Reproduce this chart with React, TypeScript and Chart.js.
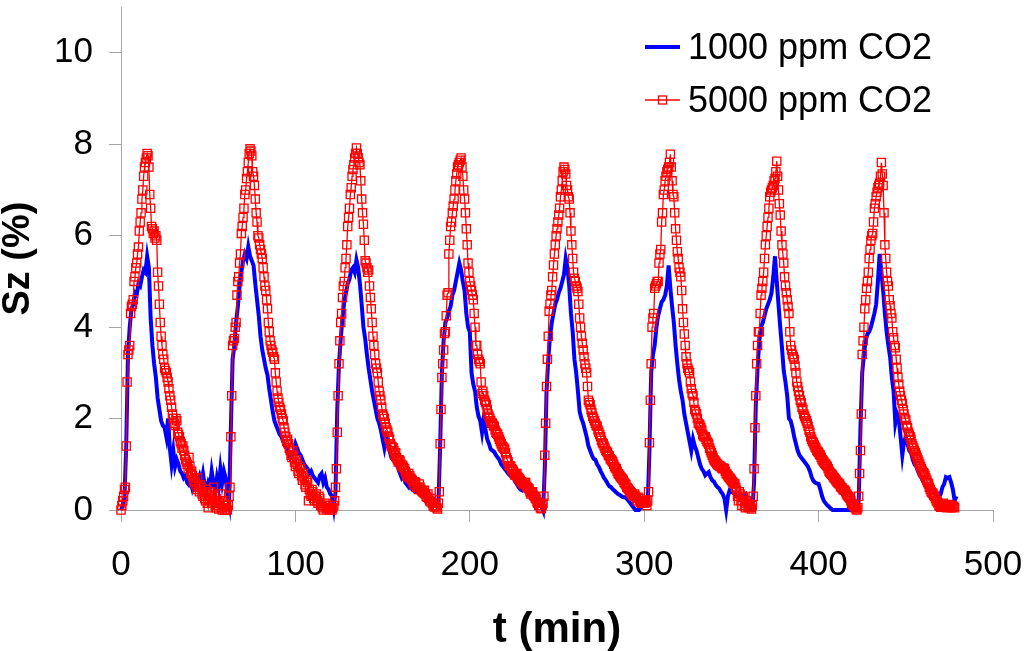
import { Chart, registerables } from "chart.js";
import { useEffect, useRef } from "react";

Chart.register(...registerables);

// one row per 60-min cycle; blue sampled every minute, red every half minute (Sz in %)
const CYCLE_MIN = 60;
const BLUE_STEP = 1;
const RED_STEP = 0.5;

const seriesNames = ["1000 ppm CO2", "5000 ppm CO2"];

const blueCycles = [
    [0, 0.1, 0.3, 1.4, 3.4, 4.0, 4.4, 4.5, 4.75, 4.7, 4.95, 4.9, 5.1, 5.25, 5.2, 5.55, 5.3, 4.2, 3.6, 3.2, 2.9, 2.45, 2.2, 1.95, 1.85, 1.8, 1.6, 2.0, 1.35, 1.0, 1.3, 0.95, 1.1, 1.0, 0.85, 0.8, 0.7, 0.75, 0.6, 0.55, 0.6, 0.45, 0.55, 0.5, 0.65, 0.75, 0.6, 0.8, 0.55, 0.45, 0.6, 0.5, 0.85, 0.6, 0.4, 0.7, 0.5, 0.9, 0.6, 0.85],
    [0.7, 0.35, 0.15, 1.8, 3.3, 3.6, 4.1, 4.45, 4.9, 5.2, 5.45, 5.6, 5.5, 5.76, 5.55, 5.45, 5.35, 4.95, 4.6, 4.25, 3.8, 3.5, 3.3, 3.1, 2.95, 2.65, 2.4, 2.15, 1.95, 1.85, 1.75, 1.65, 1.6, 1.5, 1.4, 1.35, 1.25, 1.15, 1.2, 1.3, 1.45, 1.35, 1.25, 1.2, 1.1, 1.0, 0.95, 0.9, 0.8, 0.85, 0.75, 0.7, 0.65, 0.6, 0.75, 0.8, 0.6, 0.7, 0.5, 0.45],
    [0.35, 0.3, 0.05, 0.4, 2.2, 3.2, 3.75, 4.2, 4.55, 4.75, 4.95, 5.05, 5.25, 5.3, 5.2, 5.47, 5.3, 4.95, 4.5, 4.0, 3.75, 3.4, 3.1, 2.85, 2.6, 2.4, 2.2, 2.0, 1.9, 1.75, 1.55, 1.36, 1.6, 1.5, 1.3, 1.15, 1.1, 1.05, 1.0, 0.9, 0.8, 0.7, 0.75, 0.6, 0.55, 0.5, 0.57, 0.45, 0.42, 0.4, 0.45, 0.36, 0.32, 0.3, 0.35, 0.2, 0.25, 0.18, 0.15, 0.14],
    [0.1, 0.07, 0.1, 1.4, 3.0, 3.7, 4.1, 4.2, 4.35, 4.45, 4.7, 4.8, 5.0, 5.2, 5.4, 5.25, 5.0, 4.8, 4.3, 4.0, 3.9, 3.0, 2.75, 2.6, 2.25, 2.05, 1.95, 1.7, 2.0, 1.75, 1.55, 1.45, 1.33, 1.3, 1.27, 1.2, 1.15, 1.1, 1.0, 0.95, 0.9, 0.85, 0.8, 0.76, 0.72, 0.7, 0.62, 0.57, 0.5, 0.45, 0.43, 0.5, 0.55, 0.6, 0.57, 0.4, 0.3, 0.28, 0.25, 0.2],
    [0.2, 0.1, 0.0, 0.9, 2.6, 3.3, 3.8, 4.1, 4.3, 4.5, 4.6, 4.75, 4.85, 5.0, 5.15, 5.5, 5.3, 4.9, 4.3, 3.9, 3.3, 3.0, 2.6, 2.15, 2.0, 1.9, 1.75, 1.6, 1.4, 1.3, 1.2, 1.12, 1.1, 1.0, 0.94, 0.85, 0.78, 0.7, 0.65, 0.58, 0.52, 0.5, 0.45, 0.42, 0.38, 0.35, 0.33, 0.3, 0.28, 0.28, 0.25, 0.2, 0.15, 0.1, 0.05, 0.0, 0.0, 0.0, 0.05, 0.1],
    [0.15, 0.1, 0.1, 1.3, 3.0, 3.4, 3.6, 4.0, 4.25, 4.4, 4.55, 4.6, 4.7, 4.9, 5.35, 4.85, 4.45, 4.1, 3.6, 3.2, 2.85, 2.6, 2.4, 2.1, 1.9, 1.7, 1.5, 1.3, 1.55, 1.4, 1.3, 1.15, 1.0, 0.9, 0.85, 0.76, 0.8, 0.83, 0.72, 0.65, 0.62, 0.55, 0.5, 0.47, 0.4, 0.35, 0.25, 0.0, 0.3, 0.43, 0.4, 0.38, 0.35, 0.3, 0.3, 0.28, 0.3, 0.33, 0.35, 0.15],
    [0.05, 0.0, 0.0, 0.6, 2.3, 3.1, 3.7, 4.0, 4.1, 4.25, 4.4, 4.5, 4.6, 4.75, 5.1, 5.55, 5.0, 4.5, 4.0, 3.55, 3.05, 2.8, 2.5, 2.0, 1.95, 1.8, 1.6, 1.45, 1.3, 1.2, 1.15, 1.1, 1.05, 1.0, 0.94, 0.85, 0.72, 0.64, 0.6, 0.58, 0.57, 0.45, 0.3, 0.2, 0.15, 0.1, 0.07, 0.03, 0, 0, 0, 0, 0, 0, 0, 0, 0, 0, 0, 0],
    [0, 0, 0, 0.2, 1.8, 3.0, 3.4, 3.7, 3.85, 3.9, 4.0, 4.15, 4.3, 4.5, 5.0, 5.6, 5.2, 4.8, 4.3, 3.9, 3.6, 3.35, 2.9, 2.6, 1.9, 2.1, 2.0, 1.6, 1.2, 1.5, 1.6, 1.45, 1.3, 1.25, 1.1, 1.0, 0.95, 0.85, 0.76, 0.7, 0.62, 0.55, 0.5, 0.47, 0.45, 0.43, 0.4, 0.35, 0.3, 0.28, 0.35, 0.5, 0.57, 0.72, 0.7, 0.72, 0.6, 0.45, 0.2, 0.3],
];

const redCycles = [
    [0, 0.1, 0.2, 0.3, 0.45, 0.5, 1.4, 2.8, 3.4, 3.5,
     3.6, 4.3, 4.45, 4.5, 4.6, 5.0, 5.1, 5.3, 5.4, 5.6,
     5.75, 6.1, 6.3, 6.5, 6.8, 7.0, 7.3, 7.5, 7.6, 7.7,
     7.8, 7.75, 7.5, 6.9, 6.6, 6.2, 6.15, 6.05, 6.1, 5.95,
     6.0, 5.9, 5.2, 4.9, 4.5, 4.1, 3.8, 3.6, 3.4, 3.3,
     3.1, 3.05, 3.0, 2.9, 2.8, 2.65, 2.5, 2.4, 2.25, 2.1,
     2.0, 1.9, 1.85, 2.0, 1.95, 1.7, 1.65, 1.6, 1.5, 1.45,
     1.35, 1.4, 1.3, 1.2, 1.1, 1.05, 1.0, 0.9, 1.15, 0.95,
     0.8, 0.85, 0.75, 0.65, 0.6, 0.7, 0.55, 0.45, 0.7, 0.5,
     0.4, 0.55, 0.5, 0.35, 0.3, 0.4, 0.25, 0.2, 0.45, 0.15,
     0.05, 0.2, 0.3, 0.4, 0.15, 0.25, 0.5, 0.3, 0.1, 0.05,
     0.2, 0.1, 0.02, 0.15, 0.35, 0.05, 0.0, 0.2, 0.1, 0.0],
    [0.1, 0.05, 0.0, 0.1, 0.3, 0.5, 1.6, 2.5, 3.6, 3.7,
     3.75, 4.0, 4.1, 4.7, 5.0, 5.1, 5.4, 5.6, 6.05, 6.2,
     6.4, 6.6, 6.9, 7.0, 7.25, 7.4, 7.6, 7.8, 7.9, 7.85,
     7.75, 7.4, 7.3, 7.1, 6.8, 6.5, 6.3, 6.0, 5.95, 5.8,
     5.7, 5.6, 5.5, 5.3, 5.1, 4.9, 4.8, 4.6, 4.4, 4.1,
     3.9, 3.7, 3.6, 3.5, 3.45, 3.35, 3.3, 3.0, 2.8, 2.6,
     2.45, 2.35, 2.25, 2.2, 2.1, 2.0, 1.95, 1.8, 1.7, 1.6,
     1.5, 1.55, 1.45, 1.35, 1.3, 1.2, 1.15, 1.3, 1.2, 1.05,
     0.95, 1.1, 1.0, 0.85, 0.8, 0.95, 0.9, 0.75, 0.65, 0.8,
     0.7, 0.55, 0.5, 0.65, 0.6, 0.2, 0.45, 0.35, 0.3, 0.45,
     0.4, 0.25, 0.2, 0.3, 0.35, 0.2, 0.15, 0.3, 0.25, 0.1,
     0.1, 0.05, 0.0, 0.1, 0.15, 0.05, 0.02, 0.1, 0.05, 0.0],
    [0.1, 0.05, 0.0, 0.05, 0.1, 0.2, 0.5, 0.9, 1.7, 2.5,
     3.2, 3.7, 4.1, 4.3, 4.65, 4.9, 5.0, 5.3, 5.5, 5.8,
     6.2, 6.4, 6.6, 6.9, 7.05, 7.3, 7.45, 7.55, 7.7, 7.8,
     7.92, 7.8, 7.7, 7.6, 7.55, 7.2, 6.8, 6.5, 6.25, 5.9,
     5.45, 5.4, 5.3, 5.2, 5.25, 4.9, 4.65, 4.4, 4.1, 3.8,
     3.6, 3.4, 3.2, 3.1, 3.0, 2.8, 2.6, 2.5, 2.4, 2.25,
     2.1, 2.05, 2.0, 1.9, 1.8, 1.75, 1.7, 1.6, 1.55, 1.45,
     1.4, 1.38, 1.36, 1.3, 1.2, 1.25, 1.15, 1.1, 1.05, 1.1,
     1.07, 1.0, 0.95, 0.98, 0.93, 0.9, 0.85, 0.8, 0.75, 0.72,
     0.8, 0.75, 0.7, 0.68, 0.65, 0.6, 0.55, 0.62, 0.6, 0.5,
     0.5, 0.45, 0.57, 0.5, 0.45, 0.42, 0.4, 0.38, 0.43, 0.35,
     0.3, 0.28, 0.35, 0.25, 0.2, 0.18, 0.25, 0.15, 0.1, 0.07],
    [0.07, 0.1, 0.05, 0.02, 0.15, 0.4, 1.45, 2.2, 2.9, 3.2,
     3.5, 3.86, 3.9, 4.25, 4.7, 4.75, 5.6, 5.9, 6.2, 6.3,
     6.5, 6.65, 6.8, 7.0, 7.2, 7.35, 7.5, 7.55, 7.6, 7.65,
     7.7, 7.5, 7.3, 7.0, 6.8, 6.5, 6.15, 5.8, 5.4, 5.2,
     5.0, 4.9, 4.8, 4.7, 4.6, 4.3, 4.0, 3.6, 3.6, 3.4,
     3.3, 3.25, 3.2, 2.8, 2.55, 2.6, 2.5, 2.4, 2.35, 2.3,
     2.2, 2.1, 2.05, 2.0, 1.95, 1.9, 1.9, 1.85, 1.83, 1.75,
     1.7, 1.68, 1.65, 1.6, 1.55, 1.5, 1.45, 1.4, 1.38, 1.35,
     1.33, 1.25, 1.15, 1.1, 1.05, 0.97, 0.97, 0.95, 0.9, 0.88,
     0.85, 0.8, 0.76, 0.78, 0.8, 0.72, 0.7, 0.68, 0.65, 0.62,
     0.6, 0.58, 0.55, 0.6, 0.6, 0.52, 0.5, 0.48, 0.46, 0.4,
     0.35, 0.38, 0.4, 0.32, 0.3, 0.26, 0.24, 0.18, 0.15, 0.1],
    [0.1, 0.05, 0.03, 0.1, 0.15, 0.3, 1.2, 1.9, 2.7, 3.3,
     3.8, 4.35, 4.5, 4.7, 4.8, 5.1, 5.36, 5.6, 5.8, 6.0,
     6.15, 6.3, 6.45, 6.6, 6.85, 7.0, 7.2, 7.4, 7.5, 7.45,
     7.35, 7.1, 7.0, 6.85, 6.8, 6.5, 6.1, 5.8, 5.5, 5.2,
     5.07, 5.0, 4.9, 4.85, 4.78, 4.5, 4.2, 4.0, 3.8, 3.65,
     3.5, 3.35, 3.2, 3.1, 3.0, 2.7, 2.4, 2.35, 2.3, 2.2,
     2.13, 2.05, 2.0, 1.95, 1.9, 1.85, 1.83, 1.75, 1.7, 1.65,
     1.6, 1.52, 1.47, 1.45, 1.4, 1.35, 1.3, 1.28, 1.25, 1.2,
     1.18, 1.12, 1.1, 1.08, 1.05, 1.0, 0.95, 0.92, 0.9, 0.85,
     0.8, 0.78, 0.75, 0.72, 0.7, 0.68, 0.65, 0.6, 0.58, 0.55,
     0.5, 0.48, 0.46, 0.42, 0.4, 0.38, 0.35, 0.32, 0.3, 0.35,
     0.3, 0.25, 0.2, 0.28, 0.25, 0.2, 0.17, 0.15, 0.2, 0.17],
    [0.15, 0.2, 0.17, 0.1, 0.2, 0.4, 1.47, 2.4, 3.2, 4.0,
     4.2, 4.3, 4.85, 4.9, 4.95, 5.0, 5.0, 5.4, 5.6, 5.7,
     6.3, 6.5, 6.9, 7.0, 7.2, 7.3, 7.4, 7.45, 7.5, 7.6,
     7.78, 7.5, 7.2, 6.9, 6.85, 6.5, 6.15, 5.9, 5.65, 5.5,
     5.3, 5.2, 5.1, 4.8, 4.4, 4.1, 3.85, 3.6, 3.35, 3.2,
     3.1, 3.05, 3.0, 2.8, 2.65, 2.55, 2.5, 2.35, 2.2, 2.15,
     2.1, 2.0, 1.9, 1.88, 1.85, 1.8, 1.75, 1.65, 1.62, 1.6,
     1.6, 1.55, 1.5, 1.47, 1.44, 1.35, 1.3, 1.25, 1.2, 1.15,
     1.1, 1.08, 1.05, 1.02, 1.0, 0.98, 0.97, 0.95, 0.95, 0.92,
     0.9, 0.92, 0.9, 0.85, 0.8, 0.78, 0.75, 0.72, 0.7, 0.68,
     0.65, 0.62, 0.6, 0.58, 0.57, 0.5, 0.43, 0.3, 0.2, 0.4,
     0.35, 0.2, 0.1, 0.3, 0.28, 0.1, 0.05, 0.2, 0.15, 0.06],
    [0.1, 0.05, 0.06, 0.02, 0.1, 0.3, 0.9, 1.8, 2.5, 3.2,
     3.6, 3.9, 3.9, 4.3, 4.7, 4.85, 5.0, 5.2, 5.5, 5.8,
     6.0, 6.2, 6.4, 6.6, 6.85, 6.95, 7.0, 7.05, 7.1, 7.2,
     7.25, 7.4, 7.63, 7.3, 7.0, 6.7, 6.45, 6.1, 5.8, 5.6,
     5.4, 5.1, 4.9, 4.75, 4.6, 4.45, 4.3, 3.9, 3.6, 3.5,
     3.4, 3.35, 3.3, 3.15, 3.0, 2.8, 2.7, 2.6, 2.5, 2.4,
     2.35, 2.25, 2.2, 2.1, 2.05, 2.0, 1.95, 1.9, 1.83, 1.75,
     1.7, 1.6, 1.55, 1.5, 1.47, 1.42, 1.38, 1.35, 1.3, 1.28,
     1.26, 1.22, 1.2, 1.15, 1.1, 1.08, 1.05, 1.02, 1.0, 0.98,
     0.95, 0.9, 0.85, 0.82, 0.8, 0.78, 0.76, 0.72, 0.7, 0.68,
     0.65, 0.62, 0.6, 0.58, 0.57, 0.52, 0.5, 0.48, 0.45, 0.44,
     0.43, 0.4, 0.35, 0.32, 0.3, 0.28, 0.25, 0.2, 0.14, 0.12],
    [0.1, 0.08, 0.05, 0.02, 0.0, 0.05, 0.3, 0.8, 1.3, 2.1,
     3.4, 3.7, 4.0, 4.4, 4.6, 4.85, 5.0, 5.2, 5.5, 5.7,
     5.9, 6.0, 6.05, 6.3, 6.6, 6.7, 6.85, 6.95, 7.05, 7.1,
     7.15, 7.3, 7.6, 7.35, 7.1, 6.5, 5.8, 5.5, 5.2, 5.0,
     4.9, 4.6, 4.47, 4.3, 4.2, 3.9, 3.77, 3.6, 3.55, 3.3,
     3.1, 2.9, 2.75, 2.6, 2.5, 2.4, 2.33, 2.2, 2.1, 2.0,
     1.97, 1.85, 1.8, 1.7, 1.65, 1.6, 1.55, 1.45, 1.4, 1.35,
     1.3, 1.25, 1.2, 1.15, 1.1, 1.05, 1.0, 0.95, 0.9, 0.85,
     0.82, 0.8, 0.75, 0.7, 0.65, 0.6, 0.57, 0.5, 0.45, 0.4,
     0.38, 0.36, 0.32, 0.3, 0.25, 0.2, 0.18, 0.15, 0.1, 0.08,
     0.06, 0.1, 0.12, 0.15, 0.1, 0.08, 0.1, 0.05, 0.06, 0.1,
     0.12, 0.08, 0.05, 0.1, 0.06, 0.08, 0.05],
];

const xTicks = [0, 100, 200, 300, 400, 500];
const yTicks = [0, 2, 4, 6, 8, 10];

const AXIS_GREY = "#a6a6a6";
const FONT = "'Liberation Sans', Arial, sans-serif";

function toPoints(cycles: number[][], step: number) {
    return cycles.flatMap((row, k) => row.map((y, i) => ({ x: k * CYCLE_MIN + i * step, y })));
}

// legend drawn inside the plot, top right, like the original
const cornerLegend = {
    id: "cornerLegend",
    afterDatasetsDraw(chart: any) {
        const { ctx } = chart;
        ctx.save();
        ctx.font = `36px ${FONT}`;
        ctx.textBaseline = "middle";
        ctx.textAlign = "left";
        chart.data.datasets.forEach((ds: any, r: number) => {
            const y = 47 + r * 53;
            ctx.strokeStyle = ds.borderColor;
            ctx.lineWidth = ds.borderWidth;
            ctx.beginPath();
            ctx.moveTo(645, y);
            ctx.lineTo(680, y);
            ctx.stroke();
            if (ds.pointRadius > 0) {
                ctx.lineWidth = 1.3;
                ctx.strokeRect(658.5, y - 4, 8, 8);
            }
            ctx.fillStyle = "#000";
            ctx.fillText(ds.label, 688, y + 2);
        });
        ctx.restore();
    },
};

export default function App() {
    const canvasRef = useRef<HTMLCanvasElement>(null);
    const chartRef = useRef<Chart | null>(null);

    useEffect(() => {
        document.body.style.margin = "0";
        Chart.defaults.font.family = FONT;

        chartRef.current = new Chart(canvasRef.current!, {
            type: "line",
            data: {
                datasets: [
                    {
                        label: seriesNames[0],
                        data: toPoints(blueCycles, BLUE_STEP),
                        borderColor: "#0000ff",
                        borderWidth: 4,
                        pointRadius: 0,
                        tension: 0,
                        clip: false,
                        order: 2,
                    },
                    {
                        label: seriesNames[1],
                        data: toPoints(redCycles, RED_STEP),
                        borderColor: "#ff0000",
                        borderWidth: 1.3,
                        pointStyle: "rect",
                        pointRadius: 5.8,
                        pointBorderWidth: 1.3,
                        pointBorderColor: "#ff0000",
                        pointBackgroundColor: "rgba(0,0,0,0)",
                        tension: 0,
                        clip: false,
                        order: 1,
                    },
                ],
            },
            options: {
                animation: false,
                responsive: true,
                maintainAspectRatio: false,
                layout: { padding: { top: 1, right: 31, bottom: 0, left: 0 } },
                plugins: {
                    legend: { display: false },
                    tooltip: { enabled: false },
                },
                scales: {
                    x: {
                        type: "linear",
                        min: 0,
                        max: 500,
                        afterBuildTicks: (s: any) => {
                            s.ticks = xTicks.map((value) => ({ value }));
                        },
                        afterFit: (s: any) => {
                            s.height = 141;
                            s.paddingLeft = 0;
                            s.paddingRight = 0;
                        },
                        ticks: { font: { size: 35 }, color: "#000", padding: 22, maxRotation: 0, autoSkip: false },
                        grid: { drawOnChartArea: false, tickLength: 12, color: AXIS_GREY },
                        border: { color: AXIS_GREY, width: 1 },
                        title: {
                            display: true,
                            text: "t (min)",
                            color: "#000",
                            font: { size: 42, weight: "bold", lineHeight: 1 },
                            padding: 0,
                        },
                    },
                    y: {
                        type: "linear",
                        min: 0,
                        max: 11,
                        afterBuildTicks: (s: any) => {
                            s.ticks = yTicks.map((value) => ({ value }));
                        },
                        afterFit: (s: any) => {
                            s.width = 121;
                            s.paddingTop = 0;
                            s.paddingBottom = 0;
                        },
                        ticks: { font: { size: 35 }, color: "#000", padding: 16, includeBounds: false },
                        grid: { drawOnChartArea: false, tickLength: 12, color: AXIS_GREY },
                        border: { color: AXIS_GREY, width: 1 },
                        title: {
                            display: true,
                            text: "Sz (%)",
                            color: "#000",
                            font: { size: 38, weight: "bold", lineHeight: 1 },
                            padding: 0,
                        },
                    },
                },
            },
            plugins: [cornerLegend],
        });

        return () => chartRef.current?.destroy();
    }, []);

    return (
        <div style={{ width: 1024, height: 651, position: "relative" }}>
            <canvas ref={canvasRef} />
        </div>
    );
}
